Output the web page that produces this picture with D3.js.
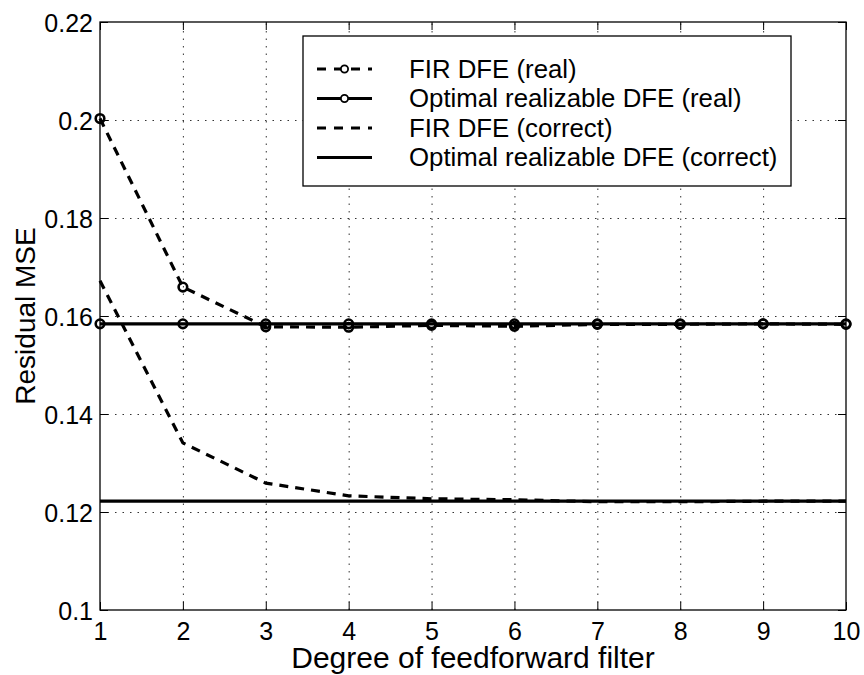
<!DOCTYPE html>
<html>
<head>
<meta charset="utf-8">
<script src="https://cdn.jsdelivr.net/npm/d3@7"></script>
<style>
  html, body { margin: 0; padding: 0; background: #fff; overflow: hidden; }
  svg { display: block; }
  text { font-family: "Liberation Sans", Arial, Helvetica, sans-serif; fill: #000; }
</style>
</head>
<body>
<div id="chart"></div>
<script>
// Data
const degrees = [1, 2, 3, 4, 5, 6, 7, 8, 9, 10];
const firReal = [0.2003, 0.1659, 0.1578, 0.1577, 0.1581, 0.1579, 0.1583, 0.1583, 0.1584, 0.1583];
const optReal = [0.1584, 0.1584, 0.1584, 0.1584, 0.1584, 0.1584, 0.1584, 0.1584, 0.1584, 0.1584];
const firCorrect = [0.1672, 0.1341, 0.1259, 0.1233, 0.1227, 0.1225, 0.1221, 0.1221, 0.1222, 0.1222];
const optCorrect = [0.1222, 0.1222, 0.1222, 0.1222, 0.1222, 0.1222, 0.1222, 0.1222, 0.1222, 0.1222];
const yTicks = [0.1, 0.12, 0.14, 0.16, 0.18, 0.2, 0.22];
const legendLabels = [
  'FIR DFE (real)',
  'Optimal realizable DFE (real)',
  'FIR DFE (correct)',
  'Optimal realizable DFE (correct)'
];

// Chart dimensions
const width = 864;
const height = 675;
const margin = { top: 22, right: 18, bottom: 65, left: 100 };
const innerWidth = width - margin.left - margin.right;
const innerHeight = height - margin.top - margin.bottom;

const svg = d3.select('#chart')
  .append('svg')
  .attr('width', width)
  .attr('height', height);

const g = svg.append('g')
  .attr('transform', `translate(${margin.left},${margin.top})`);

// Scales
const xScale = d3.scaleLinear().domain([1, 10]).range([0, innerWidth]);
const yScale = d3.scaleLinear().domain([0.1, 0.22]).range([innerHeight, 0]);

// Dotted grid
const grid = g.append('g').attr('class', 'grid');
grid.append('g')
  .attr('transform', `translate(0,${innerHeight})`)
  .call(d3.axisBottom(xScale).tickValues(degrees.slice(1, -1)).tickSize(-innerHeight));
grid.append('g')
  .call(d3.axisLeft(yScale).tickValues(yTicks.slice(1, -1)).tickSize(-innerWidth));
grid.selectAll('.domain').remove();
grid.selectAll('text').remove();
grid.selectAll('line')
  .attr('stroke', '#333')
  .attr('stroke-width', 1)
  .attr('stroke-dasharray', '1.5,6');

// Axes with inward ticks on all four sides
const fmt = d => String(+d.toFixed(2));
const xAxis = g.append('g')
  .attr('transform', `translate(0,${innerHeight})`)
  .call(d3.axisBottom(xScale).tickValues(degrees).tickSizeInner(-8).tickSizeOuter(0).tickFormat(d3.format('d')));
const yAxis = g.append('g')
  .call(d3.axisLeft(yScale).tickValues(yTicks).tickSizeInner(-8).tickSizeOuter(0).tickPadding(7).tickFormat(fmt));
const xTop = g.append('g')
  .call(d3.axisTop(xScale).tickValues(degrees).tickSizeInner(-8).tickSizeOuter(0));
const yRight = g.append('g')
  .attr('transform', `translate(${innerWidth},0)`)
  .call(d3.axisRight(yScale).tickValues(yTicks).tickSizeInner(-8).tickSizeOuter(0));
xTop.selectAll('text').remove();
yRight.selectAll('text').remove();

[xAxis, yAxis, xTop, yRight].forEach(a => {
  a.select('.domain').remove();
  a.selectAll('line').attr('stroke', '#000').attr('stroke-width', 1);
});
xAxis.selectAll('text').attr('font-size', 25).attr('y', 30).attr('dy', null);
yAxis.selectAll('text').attr('font-size', 25).attr('dy', null).attr('y', 9);

// Box
g.append('rect')
  .attr('width', innerWidth)
  .attr('height', innerHeight)
  .attr('fill', 'none')
  .attr('stroke', '#000')
  .attr('stroke-width', 1.3);

// Lines
const line = d3.line()
  .x((d, i) => xScale(degrees[i]))
  .y(d => yScale(d));

const series = [
  { values: firReal, dash: '9,7', marker: true },
  { values: optReal, dash: null, marker: true },
  { values: firCorrect, dash: '9,7', marker: false },
  { values: optCorrect, dash: null, marker: false }
];

series.forEach(s => {
  g.append('path')
    .datum(s.values)
    .attr('d', line)
    .attr('fill', 'none')
    .attr('stroke', '#000')
    .attr('stroke-width', 3.2)
    .attr('stroke-dasharray', s.dash);
  if (s.marker) {
    g.selectAll(null)
      .data(s.values)
      .enter()
      .append('circle')
      .attr('cx', (d, i) => xScale(degrees[i]))
      .attr('cy', d => yScale(d))
      .attr('r', 4.3)
      .attr('fill', 'none')
      .attr('stroke', '#000')
      .attr('stroke-width', 2.6);
  }
});

// Legend
const legend = svg.append('g').attr('transform', 'translate(303,36)');
legend.append('rect')
  .attr('width', 488)
  .attr('height', 150)
  .attr('fill', '#fff')
  .attr('stroke', '#000')
  .attr('stroke-width', 1.3);

legendLabels.forEach((label, i) => {
  const s = series[i];
  const cy = 33 + i * 29.5;
  legend.append('line')
    .attr('x1', 14).attr('x2', 69)
    .attr('y1', cy).attr('y2', cy)
    .attr('stroke', '#000')
    .attr('stroke-width', 3.2)
    .attr('stroke-dasharray', s.dash ? '9,8' : null);
  if (s.marker) {
    legend.append('circle')
      .attr('cx', 41.5).attr('cy', cy)
      .attr('r', 3.6)
      .attr('fill', '#fff')
      .attr('stroke', '#000')
      .attr('stroke-width', 1.8);
  }
  legend.append('text')
    .attr('x', 106)
    .attr('y', cy + 8.8)
    .attr('font-size', 25.8)
    .text(label);
});

// Axis titles
svg.append('text')
  .attr('x', margin.left + innerWidth / 2)
  .attr('y', 668)
  .attr('text-anchor', 'middle')
  .attr('font-size', 30)
  .text('Degree of feedforward filter');

svg.append('text')
  .attr('transform', `translate(35,${margin.top + innerHeight / 2}) rotate(-90)`)
  .attr('text-anchor', 'middle')
  .attr('font-size', 28)
  .text('Residual MSE');
</script>
</body>
</html>
